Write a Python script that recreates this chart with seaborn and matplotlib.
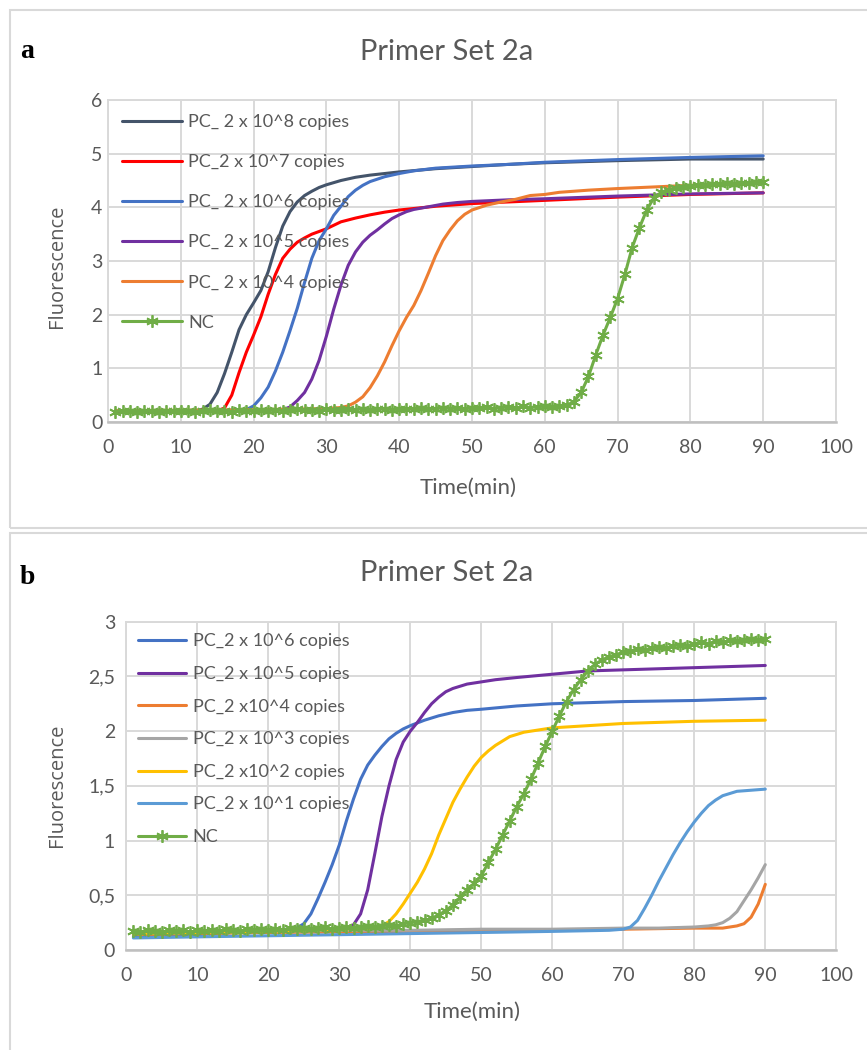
import matplotlib
matplotlib.use("Agg")
import matplotlib.pyplot as plt
import seaborn as sns
import pandas as pd
from matplotlib.patches import Rectangle

sns.set_theme(style="white")
plt.rcParams['font.family'] = ['Lato', 'DejaVu Sans']

# ---------------- Panel a data ----------------
A_TITLE = "Primer Set 2a"
A_LABELS = ["PC_ 2 x 10^8 copies", "PC_2 x 10^7 copies", "PC_ 2 x 10^6 copies",
            "PC_ 2 x 10^5 copies", "PC_ 2 x 10^4 copies", "NC"]
A_COLORS = ["#44546A", "#FF0000", "#4472C4", "#7030A0", "#ED7D31", "#70AD47"]

a8_t = [1, 5, 10, 12, 13, 14, 15, 16, 17, 18, 19, 20, 21, 22, 23, 24, 25, 26, 27, 28, 29, 30,
        32, 34, 36, 38, 40, 45, 50, 55, 60, 70, 80, 90]
a8_v = [0.19, 0.2, 0.2, 0.21, 0.24, 0.33, 0.55, 0.9, 1.3, 1.72, 2.0, 2.22, 2.45, 2.8, 3.25, 3.65,
        3.92, 4.1, 4.22, 4.3, 4.37, 4.42, 4.5, 4.56, 4.6, 4.63, 4.66, 4.72, 4.76, 4.8, 4.83, 4.87,
        4.9, 4.9]

a7_t = [1, 10, 15, 16, 17, 18, 19, 20, 21, 22, 23, 24, 25, 26, 27, 28, 30, 32, 34, 36, 38, 40,
        45, 50, 55, 60, 70, 80, 90]
a7_v = [0.19, 0.2, 0.21, 0.26, 0.5, 0.92, 1.3, 1.62, 1.96, 2.38, 2.75, 3.05, 3.22, 3.35, 3.43,
        3.5, 3.6, 3.73, 3.8, 3.86, 3.91, 3.95, 4.02, 4.07, 4.1, 4.13, 4.19, 4.24, 4.27]

a6_t = [1, 10, 18, 19, 20, 21, 22, 23, 24, 25, 26, 27, 28, 29, 30, 31, 32, 33, 34, 35, 36, 38,
        40, 42, 45, 50, 55, 60, 70, 80, 90]
a6_v = [0.2, 0.2, 0.21, 0.23, 0.3, 0.45, 0.65, 0.95, 1.3, 1.7, 2.12, 2.6, 3.05, 3.38, 3.6, 3.85,
        4.02, 4.2, 4.32, 4.41, 4.48, 4.57, 4.63, 4.68, 4.73, 4.77, 4.8, 4.84, 4.89, 4.93, 4.96]

a5_t = [1, 10, 20, 24, 25, 26, 27, 28, 29, 30, 31, 32, 33, 34, 35, 36, 37, 38, 39, 40, 41, 42,
        44, 46, 48, 50, 55, 60, 70, 80, 90]
a5_v = [0.2, 0.21, 0.22, 0.23, 0.28, 0.4, 0.55, 0.8, 1.15, 1.6, 2.1, 2.55, 2.92, 3.17, 3.35,
        3.48, 3.58, 3.69, 3.79, 3.86, 3.92, 3.96, 4.01, 4.06, 4.09, 4.11, 4.14, 4.16, 4.21, 4.25,
        4.27]

a4_t = [1, 10, 20, 30, 32, 33, 34, 35, 36, 37, 38, 39, 40, 41, 42, 43, 44, 45, 46, 47, 48, 49,
        50, 52, 54, 56, 58, 60, 62, 66, 70, 75, 80, 90]
a4_v = [0.21, 0.22, 0.23, 0.25, 0.27, 0.3, 0.37, 0.47, 0.64, 0.86, 1.12, 1.42, 1.7, 1.95, 2.17,
        2.45, 2.77, 3.1, 3.38, 3.58, 3.75, 3.87, 3.95, 4.04, 4.1, 4.15, 4.22, 4.24, 4.28, 4.32,
        4.35, 4.38, 4.41, 4.45]

anc_t = list(range(1, 91))
anc_v = [0.19, 0.21, 0.2, 0.18, 0.21, 0.2, 0.19, 0.21, 0.2, 0.2,
         0.21, 0.19, 0.2, 0.22, 0.2, 0.21, 0.19, 0.22, 0.21, 0.2,
         0.22, 0.21, 0.23, 0.21, 0.22, 0.24, 0.22, 0.23, 0.21, 0.24,
         0.23, 0.22, 0.24, 0.23, 0.25, 0.22, 0.24, 0.25, 0.23, 0.24,
         0.25, 0.24, 0.26, 0.24, 0.25, 0.27, 0.25, 0.26, 0.24, 0.27,
         0.26, 0.28, 0.25, 0.27, 0.28, 0.26, 0.29, 0.27, 0.28, 0.3,
         0.28, 0.3, 0.31, 0.38, 0.55, 0.85, 1.25, 1.62, 1.95, 2.3,
         2.75, 3.25, 3.62, 3.95, 4.18, 4.28, 4.33, 4.36, 4.38, 4.4,
         4.42, 4.41, 4.44, 4.43, 4.45, 4.44, 4.46, 4.45, 4.47, 4.48]

A_YTICKS = [0, 1, 2, 3, 4, 5, 6]
A_YTICKLABELS = ["0", "1", "2", "3", "4", "5", "6"]

# ---------------- Panel b data ----------------
B_TITLE = "Primer Set 2a"
B_LABELS = ["PC_2 x 10^6 copies", "PC_2 x 10^5 copies", "PC_2 x10^4 copies",
            "PC_2 x 10^3 copies", "PC_2 x10^2 copies", "PC_2 x 10^1 copies", "NC"]
B_COLORS = ["#4472C4", "#7030A0", "#ED7D31", "#A5A5A5", "#FFC000", "#5B9BD5", "#70AD47"]

b6_t = [1, 5, 10, 15, 20, 23, 24, 25, 26, 27, 28, 29, 30, 31, 32, 33, 34, 35, 36, 37, 38, 39,
        40, 42, 44, 46, 48, 50, 55, 60, 70, 80, 90]
b6_v = [0.12, 0.13, 0.14, 0.16, 0.18, 0.19, 0.2, 0.24, 0.33, 0.47, 0.62, 0.78, 0.96, 1.18, 1.38,
        1.56, 1.69, 1.78, 1.86, 1.93, 1.98, 2.02, 2.05, 2.1, 2.14, 2.17, 2.19, 2.2, 2.23, 2.25,
        2.27, 2.28, 2.3]

b5_t = [1, 10, 20, 30, 31, 32, 33, 34, 35, 36, 37, 38, 39, 40, 41, 42, 43, 44, 45, 46, 48, 50,
        52, 55, 60, 65, 70, 80, 90]
b5_v = [0.15, 0.16, 0.17, 0.19, 0.2, 0.23, 0.33, 0.55, 0.88, 1.22, 1.5, 1.74, 1.9, 2.0, 2.08,
        2.17, 2.25, 2.31, 2.36, 2.39, 2.43, 2.45, 2.47, 2.49, 2.52, 2.55, 2.56, 2.58, 2.6]

b4_t = [1, 10, 20, 40, 60, 70, 80, 84, 85, 86, 87, 88, 89, 90]
b4_v = [0.14, 0.15, 0.16, 0.17, 0.18, 0.19, 0.2, 0.2, 0.21, 0.22, 0.24, 0.3, 0.42, 0.6]

b3_t = [1, 10, 20, 30, 40, 50, 60, 70, 75, 80, 82, 83, 84, 85, 86, 87, 88, 89, 90]
b3_v = [0.15, 0.16, 0.17, 0.18, 0.18, 0.19, 0.19, 0.2, 0.2, 0.21, 0.22, 0.23, 0.25, 0.29, 0.35,
        0.45, 0.55, 0.66, 0.78]

b2_t = [1, 10, 20, 30, 35, 36, 37, 38, 39, 40, 41, 42, 43, 44, 45, 46, 47, 48, 49, 50, 51, 52,
        53, 54, 56, 58, 60, 65, 70, 80, 90]
b2_v = [0.15, 0.16, 0.17, 0.19, 0.2, 0.22, 0.26, 0.33, 0.42, 0.52, 0.62, 0.74, 0.88, 1.05, 1.2,
        1.35, 1.47, 1.58, 1.68, 1.76, 1.82, 1.87, 1.91, 1.95, 1.99, 2.01, 2.03, 2.05, 2.07, 2.09,
        2.1]

b1_t = [1, 10, 20, 30, 40, 50, 60, 68, 70, 71, 72, 73, 74, 75, 76, 77, 78, 79, 80, 81, 82, 83,
        84, 85, 86, 88, 90]
b1_v = [0.11, 0.12, 0.13, 0.14, 0.15, 0.16, 0.17, 0.18, 0.19, 0.21, 0.27, 0.38, 0.5, 0.63, 0.75,
        0.87, 0.98, 1.08, 1.17, 1.25, 1.32, 1.37, 1.41, 1.43, 1.45, 1.46, 1.47]

bnc_t = list(range(1, 91))
bnc_v = [0.17, 0.16, 0.18, 0.17, 0.16, 0.18, 0.17, 0.18, 0.16, 0.18,
         0.17, 0.18, 0.17, 0.19, 0.18, 0.17, 0.19, 0.18, 0.19, 0.18,
         0.19, 0.18, 0.2, 0.19, 0.2, 0.19, 0.2, 0.21, 0.19, 0.2,
         0.21, 0.2, 0.21, 0.22, 0.21, 0.22, 0.23, 0.22, 0.24, 0.25,
         0.26, 0.27, 0.29, 0.32, 0.36, 0.41, 0.48, 0.55, 0.61, 0.68,
         0.8, 0.92, 1.05, 1.18, 1.31, 1.43, 1.56, 1.71, 1.86, 2.0,
         2.14, 2.27, 2.38, 2.47, 2.55, 2.61, 2.65, 2.68, 2.7, 2.72,
         2.73, 2.75, 2.74, 2.76, 2.77, 2.76, 2.78, 2.79, 2.78, 2.8,
         2.81, 2.8, 2.82, 2.81, 2.83, 2.82, 2.83, 2.84, 2.83, 2.84]

B_YTICKS = [0, 0.5, 1, 1.5, 2, 2.5, 3]
B_YTICKLABELS = ["0", "0,5", "1", "1,5", "2", "2,5", "3"]

XTICKS = [0, 10, 20, 30, 40, 50, 60, 70, 80, 90, 100]
XTICKLABELS = ["0", "10", "20", "30", "40", "50", "60", "70", "80", "90", "100"]

# ---------------- Figure ----------------
W, H = 867, 1050
fig = plt.figure(figsize=(W / 100, H / 100), dpi=100)
fig.patch.set_facecolor("white")
TXT = "#595959"
GRID = "#D9D9D9"


def add_axes_px(l, t, r, b):
    return fig.add_axes([l / W, 1 - b / H, (r - l) / W, (b - t) / H])


def frame_px(l, t, r, b):
    fig.add_artist(Rectangle((l / W, 1 - b / H), (r - l) / W, (b - t) / H,
                             transform=fig.transFigure, fill=False,
                             edgecolor=GRID, lw=1.5))


def panel(ax, series, labels, colors, ymax, yticks, yticklabels, ypad,
          labelspacing, handlelength, borderaxespad):
    for (t, v), lab, col in zip(series, labels, colors):
        df = pd.DataFrame({"time": t, "val": v})
        if lab == "NC":
            sns.lineplot(data=df, x="time", y="val", ax=ax, color=col, lw=2.2,
                         label=lab, marker=(6, 2, 0), markersize=9,
                         markeredgewidth=1.3, markeredgecolor=col)
        else:
            sns.lineplot(data=df, x="time", y="val", ax=ax, color=col, lw=2.2,
                         label=lab)
    ax.set_xlim(0, 100)
    ax.set_ylim(0, ymax)
    ax.set_xticks(XTICKS)
    ax.set_xticklabels(XTICKLABELS)
    ax.set_yticks(yticks)
    ax.set_yticklabels(yticklabels)
    ax.set_xlabel("")
    ax.set_ylabel("")
    ax.grid(True, color=GRID, lw=1.4)
    ax.set_axisbelow(True)
    for s in ["left", "top", "right"]:
        ax.spines[s].set_color(GRID)
        ax.spines[s].set_linewidth(1.4)
    ax.spines["bottom"].set_color("#BFBFBF")
    ax.spines["bottom"].set_linewidth(1.8)
    ax.tick_params(axis="both", length=0, labelsize=14, labelcolor=TXT)
    ax.tick_params(axis="x", pad=12)
    ax.tick_params(axis="y", pad=ypad)
    leg = ax.legend(loc="upper left", frameon=False, fontsize=13,
                    labelspacing=labelspacing, handlelength=handlelength,
                    handletextpad=0.35, borderaxespad=borderaxespad, borderpad=0.3)
    for txt in leg.get_texts():
        txt.set_color(TXT)


# Panel a
frame_px(10, 10, 880, 528)
axa = add_axes_px(108, 100, 836, 422)
panel(axa, [(a8_t, a8_v), (a7_t, a7_v), (a6_t, a6_v), (a5_t, a5_v), (a4_t, a4_v),
            (anc_t, anc_v)],
      A_LABELS, A_COLORS, 6, A_YTICKS, A_YTICKLABELS, 4, 1.33, 3.3, 0.5)
fig.text(447 / W, 1 - 52 / H, A_TITLE, ha="center", va="center", fontsize=21,
         color=TXT, fontweight="normal")
fig.text(20 / W, 1 - 52 / H, "a", ha="left", va="center", fontsize=20, fontweight="bold",
         family="Liberation Serif", color="black")
fig.text(57 / W, 1 - 266 / H, "Fluorescence", rotation=90, ha="center", va="center",
         fontsize=14.5, color=TXT, family="Open Sans")
fig.text(468 / W, 1 - 488 / H, "Time(min)", ha="center", va="center", fontsize=16, color=TXT)

# Panel b
frame_px(10, 533, 880, 1060)
axb = add_axes_px(126.3, 621.7, 836.3, 950)
panel(axb, [(b6_t, b6_v), (b5_t, b5_v), (b4_t, b4_v), (b3_t, b3_v), (b2_t, b2_v),
            (b1_t, b1_v), (bnc_t, bnc_v)],
      B_LABELS, B_COLORS, 3, B_YTICKS, B_YTICKLABELS, 8, 0.92, 2.67, 0.35)
fig.text(447 / W, 1 - 573 / H, B_TITLE, ha="center", va="center", fontsize=21,
         color=TXT, fontweight="normal")
fig.text(20 / W, 1 - 578 / H, "b", ha="left", va="center", fontsize=20, fontweight="bold",
         family="Liberation Serif", color="black")
fig.text(57 / W, 1 - 785 / H, "Fluorescence", rotation=90, ha="center", va="center",
         fontsize=14.5, color=TXT, family="Open Sans")
fig.text(472 / W, 1 - 1012 / H, "Time(min)", ha="center", va="center", fontsize=16, color=TXT)

fig.savefig("out.png", dpi=100, facecolor="white")
